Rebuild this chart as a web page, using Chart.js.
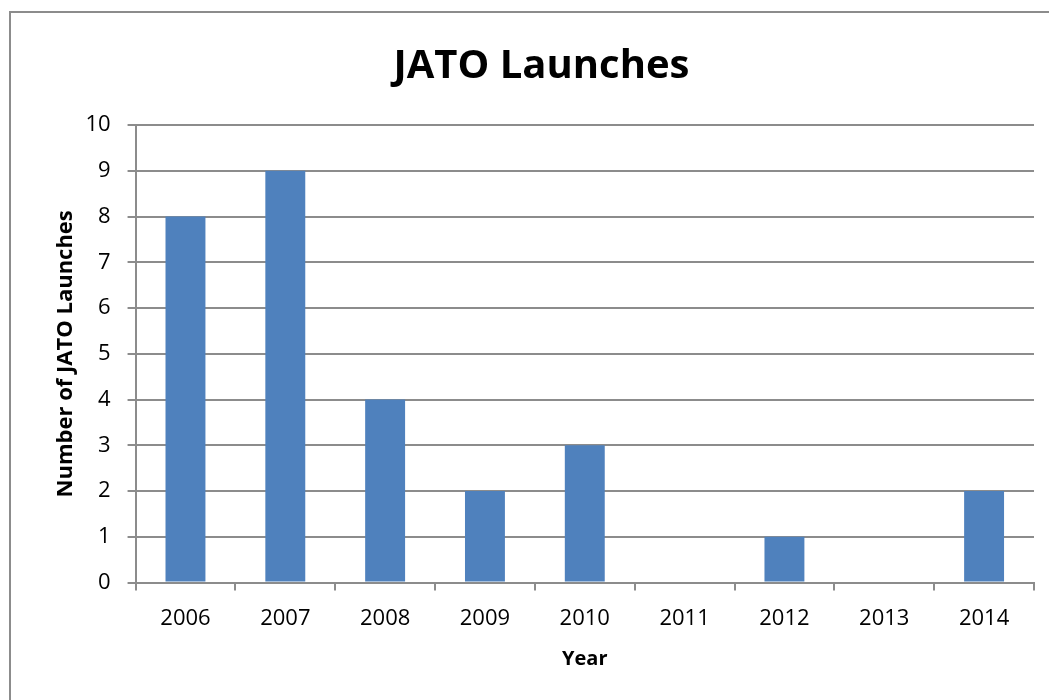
<!DOCTYPE html>
<html>
<head>
<meta charset="utf-8">
<script src="https://cdn.jsdelivr.net/npm/chart.js@4"></script>
<style>
  html, body { margin: 0; padding: 0; background: #fff; }
  .frame {
    position: absolute; left: 9px; top: 11px;
    width: 1100px; height: 760px;
    border: 2px solid #8c8c8c;
  }
  .chart-box { position: absolute; left: 0; top: 0; width: 1049px; height: 700px; }
</style>
</head>
<body>
<div class="frame"></div>
<div class="chart-box"><canvas id="jatoChart"></canvas></div>
<script>
  // Datos del gráfico.
  const years = ['2006', '2007', '2008', '2009', '2010', '2011', '2012', '2013', '2014'];
  const launches = [8, 9, 4, 2, 3, 0, 1, 0, 2];

  const FONT = "'Open Sans', sans-serif";
  const GRID = '#8c8c8c';

  new Chart(document.getElementById('jatoChart'), {
    type: 'bar',
    data: {
      labels: years,
      datasets: [{
        label: 'JATO Launches',
        data: launches,
        backgroundColor: '#4f81bd',
        barPercentage: 0.4,
        categoryPercentage: 1
      }]
    },
    options: {
      responsive: true,
      maintainAspectRatio: false,
      animation: false,
      layout: { padding: { left: 49, right: 15, top: 14, bottom: 29 } },
      plugins: {
        legend: { display: false },
        tooltip: { enabled: false },
        title: {
          display: true,
          text: 'JATO Launches',
          color: '#000',
          font: { family: FONT, size: 40, weight: 'bold' },
          padding: { top: 29, bottom: 34 }
        }
      },
      scales: {
        x: {
          offset: true,
          grid: {
            offset: true,
            drawOnChartArea: false,
            drawTicks: true,
            tickLength: 8,
            color: GRID,
            lineWidth: 2
          },
          border: { color: GRID, width: 2 },
          ticks: { color: '#000', font: { family: FONT, size: 22 }, padding: 15 },
          title: {
            display: true,
            text: 'Year',
            color: '#000',
            font: { family: FONT, size: 20, weight: 'bold' },
            padding: { top: 0, bottom: 0 }
          }
        },
        y: {
          min: 0,
          max: 10,
          ticks: { stepSize: 1, color: '#000', font: { family: FONT, size: 22 }, padding: 17 },
          grid: { color: GRID, lineWidth: 2, tickLength: 8 },
          border: { color: GRID, width: 2 },
          title: {
            display: true,
            text: 'Number of JATO Launches',
            color: '#000',
            font: { family: FONT, size: 22, weight: 'bold' },
            padding: { top: 4, bottom: -11 }
          }
        }
      }
    }
  });
</script>
</body>
</html>
